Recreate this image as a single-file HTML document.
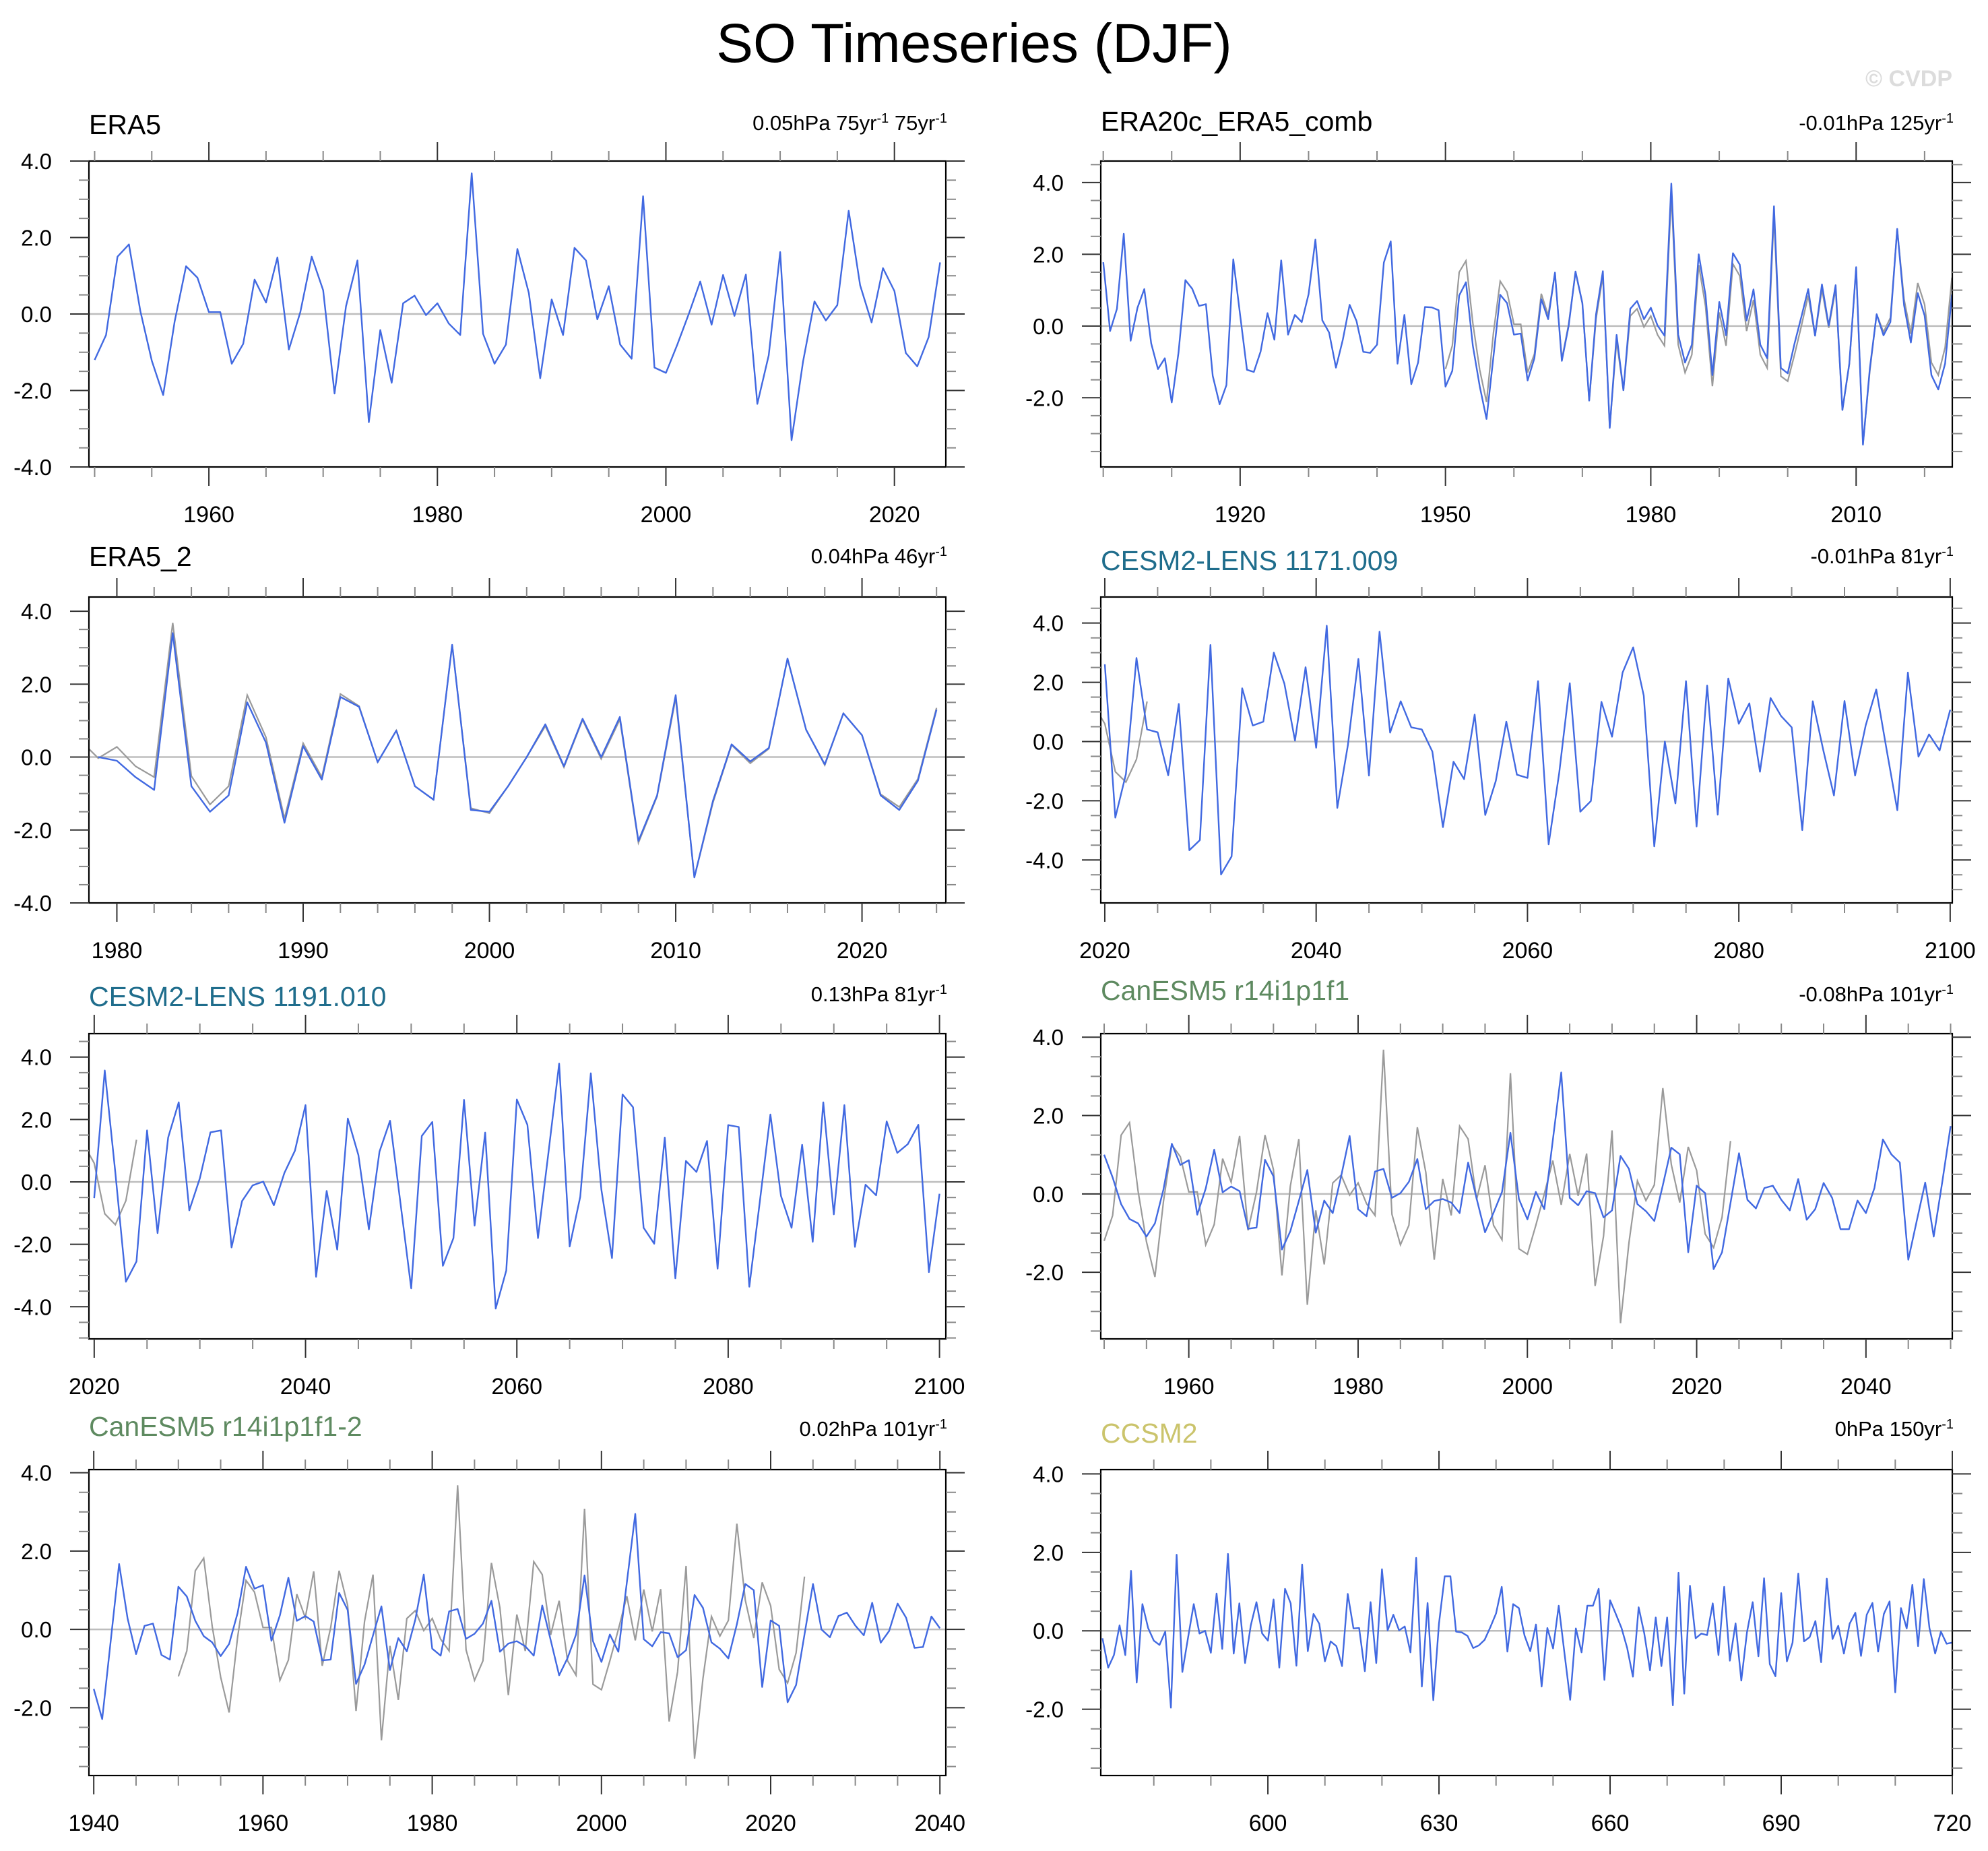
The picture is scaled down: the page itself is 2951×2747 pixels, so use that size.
<!DOCTYPE html>
<html><head><meta charset="utf-8"><title>SO Timeseries (DJF)</title>
<style>
html,body{margin:0;padding:0;background:#fff;}
svg{display:block;font-family:"Liberation Sans",Arial,sans-serif;}
</style></head>
<body>
<svg id="fig" xmlns="http://www.w3.org/2000/svg" width="2951" height="2747" viewBox="0 0 2951 2747">
<rect x="0" y="0" width="2951" height="2747" fill="#fff"/>
<text x="1446" y="92" font-size="82" text-anchor="middle" fill="#000">SO Timeseries (DJF)</text>
<text x="2898" y="128" font-size="34" font-weight="bold" text-anchor="end" fill="#dcdcdc">© CVDP</text>
</svg>
<script>
// ---- data ----
const era5Years0 = 1950;
const era5Values = [-1.2,-0.55,1.5,1.82,0.08,-1.22,-2.12,-0.2,1.25,0.95,0.05,0.05,-1.3,-0.78,0.9,0.3,1.48,-0.93,0.05,1.5,0.62,-2.08,0.2,1.4,-2.83,-0.42,-1.8,0.28,0.48,-0.03,0.28,-0.25,-0.55,3.68,-0.52,-1.3,-0.8,1.7,0.55,-1.68,0.38,-0.55,1.73,1.4,-0.14,0.73,-0.8,-1.17,3.08,-1.4,-1.54,-0.8,0.0,0.85,-0.28,1.02,-0.05,1.03,-2.35,-1.08,1.62,-3.3,-1.25,0.33,-0.17,0.23,2.7,0.75,-0.22,1.2,0.6,-1.02,-1.37,-0.6,1.35];

const era20cYears0 = 1900;
const era20cValues = [1.78,-0.14,0.48,2.57,-0.41,0.51,1.03,-0.48,-1.2,-0.9,-2.13,-0.74,1.28,1.04,0.56,0.61,-1.39,-2.18,-1.65,1.86,0.3,-1.22,-1.28,-0.71,0.36,-0.38,1.83,-0.24,0.31,0.11,0.89,2.41,0.16,-0.18,-1.16,-0.38,0.59,0.14,-0.72,-0.75,-0.52,1.77,2.36,-1.05,0.31,-1.62,-1.02,0.53,0.52,0.44,-1.69,-1.25,0.85,1.22,-0.55,-1.68,-2.59,-0.87,0.87,0.64,-0.24,-0.21,-1.52,-0.9,0.75,0.19,1.49,-0.97,0.0,1.52,0.64,-2.08,0.33,1.53,-2.84,-0.25,-1.79,0.48,0.7,0.19,0.51,0.01,-0.27,3.97,-0.24,-1.02,-0.52,2.0,0.86,-1.37,0.67,-0.26,2.03,1.71,0.15,1.02,-0.52,-0.9,3.34,-1.17,-1.32,-0.49,0.26,1.03,-0.27,1.16,0.01,1.14,-2.34,-1.05,1.64,-3.31,-1.18,0.33,-0.26,0.11,2.71,0.58,-0.46,0.92,0.29,-1.37,-1.77,-1.05,0.88];

const era5bYears0 = 1979;
const era5bValues = [0.0,-0.1,-0.55,-0.9,3.4,-0.8,-1.5,-1.05,1.5,0.4,-1.8,0.3,-0.62,1.65,1.38,-0.14,0.73,-0.8,-1.17,3.08,-1.45,-1.5,-0.8,0.0,0.9,-0.25,1.05,0.0,1.1,-2.3,-1.05,1.7,-3.3,-1.2,0.35,-0.12,0.25,2.7,0.75,-0.2,1.2,0.6,-1.05,-1.45,-0.65,1.3];

const cesmAYears0 = 2020;
const cesmAValues = [2.61,-2.57,-1.1,2.82,0.41,0.31,-1.14,1.27,-3.67,-3.33,3.26,-4.49,-3.88,1.8,0.54,0.67,3.0,1.95,0.03,2.51,-0.21,3.91,-2.24,-0.14,2.79,-1.15,3.71,0.3,1.36,0.48,0.41,-0.34,-2.89,-0.68,-1.27,0.91,-2.48,-1.33,0.67,-1.12,-1.23,2.04,-3.47,-1.06,1.97,-2.37,-2.01,1.34,0.16,2.33,3.18,1.55,-3.54,0.0,-2.09,2.04,-2.87,1.89,-2.47,2.13,0.6,1.29,-1.02,1.47,0.86,0.48,-2.99,1.36,-0.3,-1.82,1.37,-1.15,0.54,1.76,-0.3,-2.32,2.33,-0.51,0.24,-0.3,1.07];

const cesmBYears0 = 2020;
const cesmBValues = [-0.52,3.57,0.3,-3.2,-2.55,1.65,-1.64,1.42,2.55,-0.91,0.12,1.59,1.65,-2.1,-0.61,-0.11,0.01,-0.75,0.29,1.0,2.46,-3.04,-0.29,-2.17,2.03,0.86,-1.52,0.97,1.96,-0.72,-3.41,1.47,1.92,-2.69,-1.8,2.63,-1.4,1.58,-4.06,-2.84,2.64,1.83,-1.8,0.97,3.79,-2.07,-0.48,3.48,-0.25,-2.44,2.8,2.39,-1.47,-1.98,1.42,-3.09,0.67,0.32,1.31,-2.78,1.82,1.76,-3.36,-0.61,2.16,-0.45,-1.47,1.19,-1.92,2.55,-1.04,2.46,-2.08,-0.09,-0.43,1.94,0.93,1.21,1.83,-2.89,-0.38];

const canAYears0 = 1950;
const canAValues = [1.0,0.42,-0.26,-0.64,-0.75,-1.09,-0.75,0.11,1.28,0.74,0.86,-0.53,0.14,1.13,0.04,0.19,0.07,-0.89,-0.86,0.87,0.45,-1.42,-0.95,-0.18,0.61,-0.99,-0.17,-0.49,0.45,1.48,-0.39,-0.57,0.57,0.64,-0.1,0.02,0.31,0.89,-0.39,-0.18,-0.13,-0.22,-0.49,0.8,-0.12,-0.98,-0.48,0.05,1.56,-0.13,-0.65,0.05,-0.39,1.37,3.1,-0.1,-0.29,0.07,0.02,-0.6,-0.42,0.97,0.64,-0.26,-0.44,-0.69,0.22,1.18,1.01,-1.49,0.21,0.02,-1.92,-1.49,-0.23,1.04,-0.15,-0.37,0.15,0.21,-0.15,-0.42,0.38,-0.66,-0.39,0.28,-0.1,-0.9,-0.9,-0.17,-0.49,0.15,1.39,1.01,0.8,-1.68,-0.69,0.29,-1.09,0.28,1.73];

const canBYears0 = 1940;
const canBValues = [-1.52,-2.29,-0.3,1.67,0.28,-0.63,0.09,0.15,-0.65,-0.77,1.09,0.84,0.22,-0.17,-0.33,-0.68,-0.37,0.42,1.6,1.04,1.13,-0.29,0.36,1.32,0.22,0.34,0.2,-0.79,-0.77,0.93,0.5,-1.39,-0.9,-0.15,0.59,-1.04,-0.22,-0.56,0.25,1.4,-0.49,-0.67,0.46,0.52,-0.24,-0.11,0.15,0.73,-0.57,-0.36,-0.3,-0.43,-0.67,0.61,-0.27,-1.17,-0.73,-0.13,1.38,-0.3,-0.83,-0.13,-0.57,1.2,2.95,-0.25,-0.43,-0.07,-0.1,-0.71,-0.53,0.88,0.55,-0.33,-0.49,-0.74,0.13,1.16,1.0,-1.47,0.23,0.09,-1.86,-1.42,-0.13,1.16,0.0,-0.2,0.34,0.43,0.1,-0.15,0.68,-0.34,-0.04,0.66,0.3,-0.47,-0.45,0.33,0.03];

const ccsmYears0 = 571;
const ccsmValues = [-0.19,-0.94,-0.62,0.14,-0.62,1.53,-1.32,0.68,0.07,-0.25,-0.36,-0.02,-1.96,1.94,-1.05,-0.18,0.68,-0.07,0.0,-0.56,0.95,-0.46,1.96,-0.58,0.7,-0.82,0.14,0.73,-0.07,-0.25,0.8,-0.94,1.07,0.7,-0.89,1.69,-0.52,0.43,0.18,-0.78,-0.27,-0.39,-0.9,0.94,0.06,0.07,-1.03,0.73,-0.82,1.57,0.01,0.41,0.01,0.11,-0.55,1.86,-1.42,0.71,-1.77,0.18,1.39,1.39,-0.02,-0.04,-0.13,-0.44,-0.37,-0.23,0.09,0.44,1.12,-0.53,0.68,0.58,-0.12,-0.52,0.16,-1.42,0.07,-0.45,0.64,-0.57,-1.76,0.06,-0.55,0.64,0.64,1.07,-1.25,0.78,0.43,0.07,-0.44,-1.17,0.6,-0.07,-1.01,0.34,-0.9,0.34,-1.9,1.48,-1.6,1.15,-0.19,-0.07,-0.11,0.7,-0.62,1.12,-0.76,0.19,-1.27,-0.04,0.73,-0.65,1.34,-0.85,-1.16,0.96,-0.78,-0.3,1.46,-0.27,-0.16,0.25,-0.8,1.33,-0.21,0.13,-0.58,0.18,0.46,-0.64,0.41,0.71,-0.53,0.43,0.75,-1.57,0.58,0.06,1.17,-0.39,1.32,0.07,-0.58,-0.02,-0.33,-0.3];

const panelTitles = ["ERA5","ERA20c_ERA5_comb","ERA5_2","CESM2-LENS 1171.009","CESM2-LENS 1191.010","CanESM5 r14i1p1f1","CanESM5 r14i1p1f1-2","CCSM2"];
const panelStats = ["0.05hPa 75yr| 75yr","-0.01hPa 125yr","0.04hPa 46yr","-0.01hPa 81yr","0.13hPa 81yr","-0.08hPa 101yr","0.02hPa 101yr","0hPa 150yr"];

// ---- layout ----
const NS = "http://www.w3.org/2000/svg";
const svg = document.getElementById("fig");
const L = [132,1404], R = [1634,2898];
const rows = [[239,693],[886,1340],[1534,1987],[2181,2635]];
const titleBase = [[199,194],[840,846],[1493,1484],[2131,2141]];
const statBase = [193,836,1486,2131];

const panels = [
 {c:L,r:0,x0:1949.5,x1:2024.5,y0:-4,y1:4,maj:20,min:5,ser:[[era5Years0,era5Values]],gray:null,tc:"#000"},
 {c:R,r:0,x0:1899.64,x1:2024.05,y0:-3.93,y1:4.6,maj:30,min:10,ser:[[era20cYears0,era20cValues]],gray:true,tc:"#000",majStart:1920},
 {c:L,r:1,x0:1978.5,x1:2024.5,y0:-4.0,y1:4.39,maj:10,min:2,ser:[[era5bYears0,era5bValues]],gray:true,tc:"#000"},
 {c:R,r:1,x0:2019.62,x1:2100.2,y0:-5.45,y1:4.88,maj:20,min:5,ser:[[cesmAYears0,cesmAValues]],gray:true,tc:"#1f6d8c"},
 {c:L,r:2,x0:2019.5,x1:2100.6,y0:-5.03,y1:4.75,maj:20,min:5,ser:[[cesmBYears0,cesmBValues]],gray:true,tc:"#1f6d8c"},
 {c:R,r:2,x0:1949.6,x1:2050.2,y0:-3.7,y1:4.09,maj:20,min:5,ser:[[canAYears0,canAValues]],gray:true,tc:"#5e8a60"},
 {c:L,r:3,x0:1939.43,x1:2040.7,y0:-3.73,y1:4.08,maj:20,min:5,ser:[[canBYears0,canBValues]],gray:true,tc:"#5e8a60"},
 {c:R,r:3,x0:570.7,x1:720.0,y0:-3.69,y1:4.11,maj:30,min:10,ser:[[ccsmYears0,ccsmValues]],gray:null,tc:"#cbc46c"}
];

function mk(tag, attrs, parent){
  const e = document.createElementNS(NS, tag);
  for (const k in attrs) e.setAttribute(k, attrs[k]);
  (parent||svg).appendChild(e);
  return e;
}

panels.forEach((p, idx) => {
  const fx0 = p.c[0], fx1 = p.c[1], fy0 = rows[p.r][0], fy1 = rows[p.r][1];
  const xs = v => fx0 + (v - p.x0) / (p.x1 - p.x0) * (fx1 - fx0);
  const ys = v => fy1 - (v - p.y0) / (p.y1 - p.y0) * (fy1 - fy0);
  const g = mk("g", {});
  
  

  const cp = mk("clipPath", {id:"clip"+idx}, g);
  mk("rect", {x:fx0, y:fy0, width:fx1-fx0, height:fy1-fy0}, cp);

  const zl = mk("line", {x1:fx0, x2:fx1, y1:ys(0), y2:ys(0), stroke:"#bdbdbd", "stroke-width":2.5}, g);
  
  

  if (p.gray) {
    const pts = era5Values.map((v,i) => xs(era5Years0+i).toFixed(1)+","+ys(v).toFixed(1)).join(" ");
    const gl = mk("polyline", {points:pts, fill:"none", stroke:"#9a9a9a", "stroke-width":2.2, "clip-path":"url(#clip"+idx+")"}, g);
    
    
  }
  p.ser.forEach(s => {
    const pts = s[1].map((v,i) => xs(s[0]+i).toFixed(1)+","+ys(v).toFixed(1)).join(" ");
    const bl = mk("polyline", {points:pts, fill:"none", stroke:"#4169e1", "stroke-width":2.4, "stroke-linejoin":"round", "clip-path":"url(#clip"+idx+")"}, g);
    
    
  });

  const fr = mk("rect", {x:fx0, y:fy0, width:fx1-fx0, height:fy1-fy0, fill:"none", stroke:"#000", "stroke-width":2.2}, g);
  
  

  for (let k = Math.ceil(p.y0/0.5); k*0.5 <= p.y1 + 1e-9; k++) {
    const v = k*0.5, y = ys(v);
    const major = Math.abs(v/2 - Math.round(v/2)) < 1e-9;
    const len = major ? 28 : 15;
    const col = major ? "#333" : "#888";
    mk("line", {x1:fx0-len, x2:fx0, y1:y, y2:y, stroke:col, "stroke-width":2}, g);
    mk("line", {x1:fx1, x2:fx1+len, y1:y, y2:y, stroke:col, "stroke-width":2}, g);
    if (major) {
      const t = mk("text", {x:fx0-55, y:y+12, "font-size":33, "text-anchor":"end", fill:"#000"}, g);
      t.textContent = v.toFixed(1);
      
      
    }
  }
  for (let k = Math.ceil(p.x0/p.min); k*p.min <= p.x1 + 1e-9; k++) {
    const v = k*p.min, x = xs(v);
    const base = p.majStart !== undefined ? p.majStart : 0;
    const major = Math.abs(((v - base) % p.maj + p.maj) % p.maj) < 1e-9;
    const len = major ? 28 : 15;
    const col = major ? "#333" : "#888";
    mk("line", {x1:x, x2:x, y1:fy0-len, y2:fy0, stroke:col, "stroke-width":2}, g);
    mk("line", {x1:x, x2:x, y1:fy1, y2:fy1+len, stroke:col, "stroke-width":2}, g);
    if (major) {
      const t = mk("text", {x:x, y:fy1+82, "font-size":34, "text-anchor":"middle", fill:"#000"}, g);
      t.textContent = String(v);
      
      
    }
  }
  const col = p.c === L ? 0 : 1;
  const tt = mk("text", {x:fx0, y:titleBase[p.r][col], "font-size":41, fill:p.tc}, g);
  tt.textContent = panelTitles[idx];
  
  
  const st = mk("text", {x:fx1+2, y:statBase[p.r], "font-size":31, "text-anchor":"end", fill:"#000"}, g);
  
  
  const parts = panelStats[idx].split("|");
  parts.forEach((part, i) => {
    const a = document.createElementNS(NS, "tspan");
    a.textContent = part;
    a.setAttribute("dy", i === 0 ? "0" : "11");
    st.appendChild(a);
    const s = document.createElementNS(NS, "tspan");
    s.textContent = "-1";
    s.setAttribute("dy", "-11");
    s.setAttribute("font-size", "20");
    st.appendChild(s);
  });
});
</script>
</body></html>
